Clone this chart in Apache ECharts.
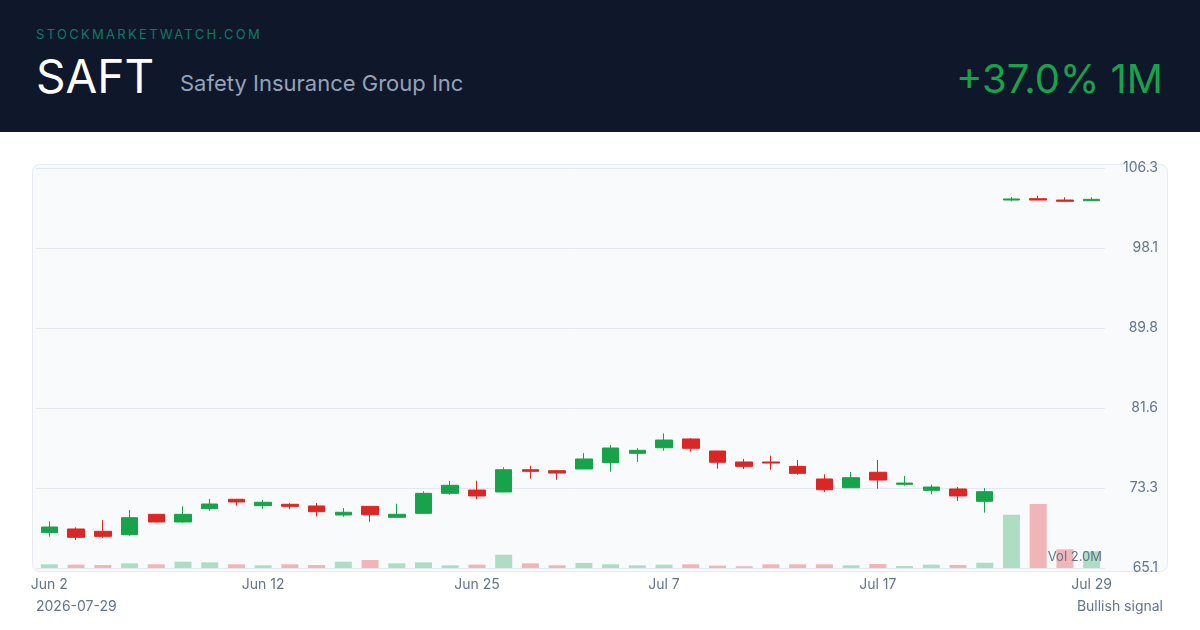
<!DOCTYPE html>
<html>
<head>
<meta charset="utf-8">
<script src="https://cdn.jsdelivr.net/npm/echarts@6/dist/echarts.min.js"></script>
<style>
  html, body { margin: 0; padding: 0; background: #ffffff; }
  #wrap { position: relative; width: 1200px; height: 630px; overflow: hidden; font-family: Inter, "Noto Sans", sans-serif; }
  #chart { position: absolute; left: 0; top: 0; width: 1200px; height: 630px; }
  #hdr { position: absolute; left: 0; top: 0; width: 1200px; height: 132px; background: #0f172a; }
  .t { position: absolute; white-space: nowrap; line-height: 1; }
</style>
</head>
<body>
<div id="wrap">
  <div id="chart"></div>
  <div id="hdr"></div>
  <div class="t" id="brand" style="left:36px;top:28px;font-size:13px;letter-spacing:2.3px;color:#117a65;">STOCKMARKETWATCH.COM</div>
  <div class="t" id="sym" style="left:36px;top:53px;font-size:46px;color:#ffffff;">SAFT</div>
  <div class="t" id="name" style="left:180px;top:72px;font-size:22px;color:#94a3b8;">Safety Insurance Group Inc</div>
  <div class="t" id="chg" style="right:37px;top:59px;font-size:40px;color:#16a34a;">+37.0% 1M</div>
  <div class="t" id="date" style="left:36px;top:599px;font-size:14px;color:#64748b;">2026-07-29</div>
  <div class="t" id="sig" style="right:37px;top:599px;font-size:14px;color:#64748b;">Bullish signal</div>
</div>
<script>
const dates = ['Jun 2','Jun 3','Jun 4','Jun 5','Jun 8','Jun 9','Jun 10','Jun 11','Jun 12',
  'Jun 15','Jun 16','Jun 17','Jun 18','Jun 22','Jun 23','Jun 24','Jun 25','Jun 26',
  'Jun 29','Jun 30','Jul 1','Jul 2','Jul 6','Jul 7','Jul 8','Jul 9','Jul 10',
  'Jul 13','Jul 14','Jul 15','Jul 16','Jul 17','Jul 20','Jul 21','Jul 22','Jul 23','Jul 24',
  'Jul 27','Jul 28','Jul 29'];
const opens  = [68.74,69.12,68.88,68.53,70.63,69.84,71.21,72.18,71.52,71.66,71.49,70.56,71.45,70.32,70.73,72.79,73.13,72.93,75.22,75.12,75.30,75.95,76.91,77.49,78.39,77.15,76.02,76.02,75.57,74.27,73.37,74.96,73.72,73.10,73.24,71.97,103.00,103.14,103.00,102.93];
const closes = [69.32,68.26,68.36,70.28,69.84,70.63,71.69,71.90,71.87,71.45,70.90,70.84,70.59,70.63,72.79,73.62,72.52,75.22,75.06,74.88,76.33,77.46,77.22,78.28,77.43,75.99,75.57,75.91,74.85,73.16,74.40,74.16,73.85,73.44,72.52,72.96,103.11,103.00,102.87,103.07];
const lows   = [68.32,67.98,68.22,68.43,69.81,69.77,71.00,71.52,71.21,71.15,70.42,70.38,69.87,70.32,70.73,72.65,72.18,72.93,74.30,74.19,75.30,75.02,76.02,77.18,77.08,75.33,75.30,75.22,74.71,72.93,73.37,73.27,73.58,72.69,72.00,70.80,102.87,102.98,102.85,102.92];
const highs  = [69.91,69.29,70.04,71.07,70.66,71.45,72.21,72.21,72.10,71.79,71.79,71.28,71.45,71.72,73.00,74.06,74.09,75.47,75.64,75.19,76.94,77.77,77.46,78.97,78.46,77.15,76.33,76.67,76.22,74.75,74.99,76.22,74.58,73.68,73.44,73.34,103.31,103.45,103.28,103.28];
const volumes = [0.44,0.40,0.36,0.56,0.44,0.75,0.68,0.44,0.32,0.44,0.36,0.75,0.96,0.56,0.68,0.32,0.40,1.59,0.56,0.32,0.60,0.44,0.32,0.40,0.44,0.28,0.20,0.44,0.44,0.44,0.32,0.48,0.24,0.40,0.36,0.63,6.38,7.66,2.24,2.00];
const labelIdx = [0, 8, 16, 23, 31, 39];
const yMin = 65.1, yMax = 106.3, yStep = 8.24;
const volLabel = 'Vol 2.0M';

const UP = '#16a34a', DOWN = '#dc2626';
const candles = dates.map((d, i) => [opens[i], closes[i], lows[i], highs[i]]);
const volData = volumes.map((v, i) => ({
  value: v,
  itemStyle: { color: closes[i] >= opens[i] ? 'rgba(22,163,74,0.32)' : 'rgba(220,38,38,0.32)' }
}));

const chart = echarts.init(document.getElementById('chart'), null, { renderer: 'canvas' });
chart.setOption({
  animation: false,
  backgroundColor: '#ffffff',
  textStyle: { fontFamily: 'Inter, "Noto Sans", sans-serif' },
  graphic: [
    { type: 'rect', z: -10, shape: { x: 32.5, y: 164.5, width: 1135, height: 407, r: 7 },
      style: { fill: '#f8fafc', stroke: '#e5e9f0', lineWidth: 1 } },
    { type: 'text', z: 100, style: { x: 1102, y: 557, text: volLabel, fill: '#64748b', font: '13px Inter, sans-serif', align: 'right', verticalAlign: 'middle' } }
  ],
  grid: { left: 36, right: 95, top: 168, bottom: 62 },
  xAxis: {
    type: 'category', data: dates, boundaryGap: true,
    axisLine: { show: false }, axisTick: { show: false },
    axisLabel: { color: '#64748b', fontSize: 14, margin: 10,
      interval: (idx) => labelIdx.indexOf(idx) >= 0 },
    splitLine: { show: false }
  },
  yAxis: [
    { type: 'value', position: 'right', min: yMin, max: yMax, interval: yStep, scale: true,
      axisLine: { show: false }, axisTick: { show: false },
      axisLabel: { color: '#64748b', fontSize: 14, align: 'right', margin: 53,
        formatter: (v) => v.toFixed(1) },
      splitLine: { lineStyle: { color: '#e2e8f0', width: 1 } } },
    { type: 'value', min: 0, max: Math.max(...volumes) * 6.25, show: false,
      splitLine: { show: false } }
  ],
  series: [
    { type: 'bar', yAxisIndex: 1, data: volData, barWidth: 17, z: 1, silent: true },
    { type: 'candlestick', yAxisIndex: 0, data: candles, barWidth: 17, z: 3,
      itemStyle: { color: UP, color0: DOWN, borderColor: UP, borderColor0: DOWN, borderWidth: 1 } }
  ]
});
</script>
</body>
</html>
